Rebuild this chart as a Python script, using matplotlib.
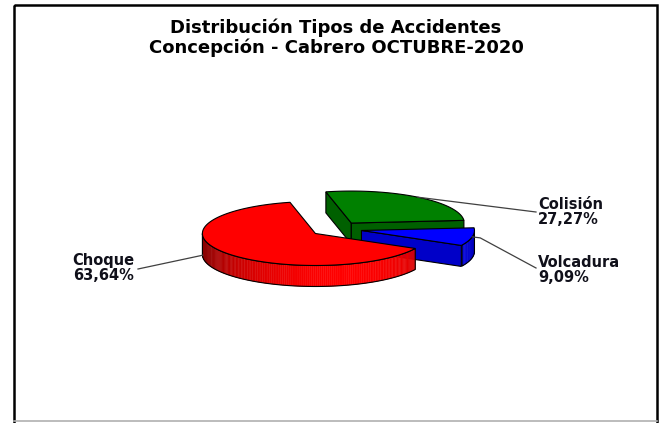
import numpy as np
import matplotlib.pyplot as plt
from matplotlib.patches import Polygon, Rectangle

# data
title_lines = ['Distribución Tipos de Accidentes', 'Concepción - Cabrero OCTUBRE-2020']
categories = ['Colisión', 'Volcadura', 'Choque']
percentages = [27.27, 9.09, 63.64]
pct_labels = ['27,27%', '9,09%', '63,64%']

top_colors = [(0.0, 0.50, 0.0), (0.0, 0.0, 1.0), (1.0, 0.0, 0.0)]
face_colors = ['#006000', '#0000C8', '#C00000']

plt.rcParams['font.family'] = ['DejaVu Sans']

fig = plt.figure(figsize=(6.64, 4.23), dpi=100)
ax = fig.add_axes([0, 0, 1, 1])
ax.set_xlim(0, 664)
ax.set_ylim(423, 0)
ax.axis('off')

# pie geometry in pixel units
cx, cy = 336, 229
ra, rb, depth = 113, 32, 21
explode = 0.23
start = -13


def pt(theta, x0, y0, r=1.0, dz=0.0):
    t = np.radians(theta)
    return x0 + ra * r * np.sin(t), y0 - rb * r * np.cos(t) + dz


def shade(theta):
    return 0.55 + 0.45 * max(0.0, np.cos(np.radians(theta - 165)))


fr = np.array(percentages) / sum(percentages)
edges = start + 360 * np.concatenate([[0], np.cumsum(fr)])

slices = []
for i in range(len(categories)):
    t1, t2 = edges[i], edges[i + 1]
    mid = (t1 + t2) / 2
    sx, sy = pt(mid, cx, cy, explode)
    slices.append((sy, i, t1, t2, mid, sx))

anchors = {}
for sy, i, t1, t2, mid, sx in sorted(slices):
    thetas = np.linspace(t1, t2, 120)
    # front part of the outer wall, shaded strips
    vis = [t for t in np.arange(t1, t2 + 0.01, 1.0) if np.cos(np.radians(t)) < 0]
    base = np.array(top_colors[i])
    for a0, a1 in zip(vis[:-1], vis[1:]):
        p = [pt(a0, sx, sy), pt(a1, sx, sy), pt(a1, sx, sy, dz=depth), pt(a0, sx, sy, dz=depth)]
        c = base * shade((a0 + a1) / 2)
        ax.add_patch(Polygon(p, closed=True, facecolor=c, edgecolor=c, lw=0.3))
    if len(vis) > 1:
        up = [pt(t, sx, sy) for t in vis]
        dn = [pt(t, sx, sy, dz=depth) for t in vis[::-1]]
        ax.add_patch(Polygon(up + dn, closed=True, facecolor='none', edgecolor='black', lw=0.8))
    # radial faces that face the viewer
    for t, visible in ((t1, np.sin(np.radians(t1)) < 0), (t2, np.sin(np.radians(t2)) > 0)):
        if visible:
            p = [(sx, sy), pt(t, sx, sy), pt(t, sx, sy, dz=depth), (sx, sy + depth)]
            ax.add_patch(Polygon(p, closed=True, facecolor=face_colors[i], edgecolor='black', lw=0.8))
    # top face
    top = [(sx, sy)] + [pt(t, sx, sy) for t in thetas]
    ax.add_patch(Polygon(top, closed=True, facecolor=top_colors[i], edgecolor='black', lw=0.8))
    anchors[i] = (sx, sy, mid)

# labels and leader lines
lab_kw = dict(fontsize=10.5, fontweight='bold', color='#10101a', linespacing=1.05, va='center')
sx, sy, mid = anchors[0]
ax.plot(*zip(pt(mid, sx, sy), (536, 212)), color='#404040', lw=0.9)
ax.text(538, 212, categories[0] + '\n' + pct_labels[0], ha='left', **lab_kw)

sx, sy, mid = anchors[1]
a = pt(mid, sx, sy)
ax.plot([a[0], a[0] + 8, 536], [a[1], a[1] + 1, 268], color='#404040', lw=0.9)
ax.text(538, 270, categories[1] + '\n' + pct_labels[1], ha='left', **lab_kw)

sx, sy, mid = anchors[2]
a = pt(265, sx, sy, dz=depth * 0.9)
ax.plot([a[0], 138], [a[1], 269], color='#404040', lw=0.9)
ax.text(134, 268, categories[2] + '\n' + pct_labels[2], ha='right', multialignment='right', **lab_kw)

# title
ax.text(336, 28, title_lines[0], ha='center', va='center', fontsize=13, fontweight='bold')
ax.text(336, 48, title_lines[1], ha='center', va='center', fontsize=13, fontweight='bold')

# frame
ax.add_patch(Rectangle((14, 5), 643, 440, facecolor='none', edgecolor='black', lw=1.8))
ax.plot([14, 657], [421.5, 421.5], color='#b0b0b0', lw=1.2)

fig.savefig('out.png', dpi=100)
